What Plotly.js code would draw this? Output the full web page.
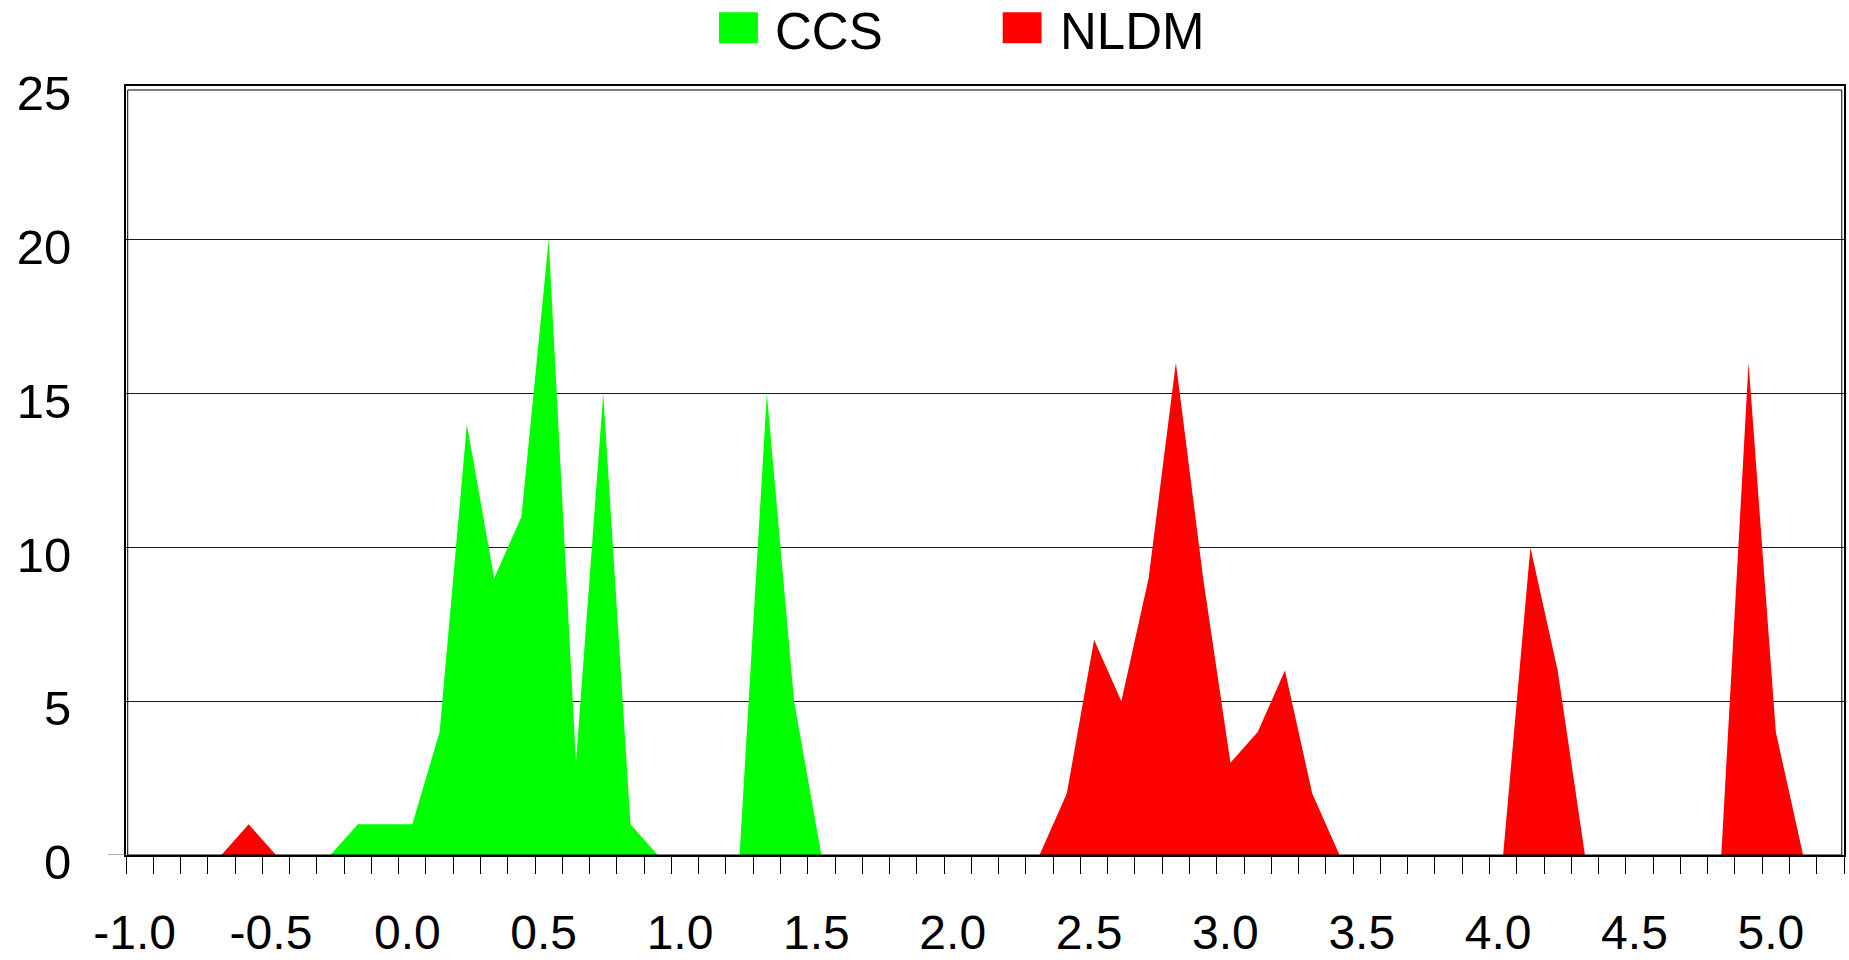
<!DOCTYPE html>
<html>
<head>
<meta charset="utf-8">
<script src="https://cdn.plot.ly/plotly-3.0.1.min.js"></script>
<style>
  html, body { margin: 0; padding: 0; background: #ffffff; }
  #chart { width: 1849px; height: 960px; }
</style>
</head>
<body>
<div id="chart"></div>
<script>
// Bin centres (step 0.1) along the horizontal axis
const bins = [
  -1.0, -0.9, -0.8, -0.7, -0.6, -0.5, -0.4, -0.3, -0.2, -0.1,
   0.0,  0.1,  0.2,  0.3,  0.4,  0.5,  0.6,  0.7,  0.8,  0.9,
   1.0,  1.1,  1.2,  1.3,  1.4,  1.5,  1.6,  1.7,  1.8,  1.9,
   2.0,  2.1,  2.2,  2.3,  2.4,  2.5,  2.6,  2.7,  2.8,  2.9,
   3.0,  3.1,  3.2,  3.3,  3.4,  3.5,  3.6,  3.7,  3.8,  3.9,
   4.0,  4.1,  4.2,  4.3,  4.4,  4.5,  4.6,  4.7,  4.8,  4.9,
   5.0,  5.1,  5.2
];

// Counts per bin for each timing model
const ccsCounts = [
  0, 0, 0, 0, 0, 0, 0, 0, 1, 1,
  1, 4, 14, 9, 11, 20, 3, 15, 1, 0,
  0, 0, 0, 15, 5, 0, 0, 0, 0, 0,
  0, 0, 0, 0, 0, 0, 0, 0, 0, 0,
  0, 0, 0, 0, 0, 0, 0, 0, 0, 0,
  0, 0, 0, 0, 0, 0, 0, 0, 0, 0,
  0, 0, 0
];
const nldmCounts = [
  0, 0, 0, 0, 1, 0, 0, 0, 0, 0,
  0, 0, 0, 0, 0, 0, 0, 0, 0, 0,
  0, 0, 0, 0, 0, 0, 0, 0, 0, 0,
  0, 0, 0, 0, 2, 7, 5, 9, 16, 9,
  3, 4, 6, 2, 0, 0, 0, 0, 0, 0,
  0, 10, 6, 0, 0, 0, 0, 0, 0, 16,
  4, 0, 0
];

// Axis labels
const xTickVals = [-1.0, -0.5, 0.0, 0.5, 1.0, 1.5, 2.0, 2.5, 3.0, 3.5, 4.0, 4.5, 5.0];
const xTickText = ['-1.0', '-0.5', '0.0', '0.5', '1.0', '1.5', '2.0', '2.5', '3.0', '3.5', '4.0', '4.5', '5.0'];
const yTickVals = [0, 5, 10, 15, 20, 25];

const seriesNames = ['CCS', 'NLDM'];
const seriesColors = ['#00ff00', '#ff0000'];

const FONT = 'Liberation Sans, Arial, Helvetica, sans-serif';

const traces = [ccsCounts, nldmCounts].map((vals, i) => ({
  type: 'scatter',
  mode: 'lines',
  x: bins,
  y: vals,
  name: seriesNames[i],
  fill: 'tozeroy',
  fillcolor: seriesColors[i],
  line: { width: 0, color: seriesColors[i] },
  showlegend: false,
  hoverinfo: 'x+y+name'
}));

// Legend drawn as swatches + labels above the plot
const legendShapes = [];
const legendNotes = [];
const swatchX = [0.3452, 0.5103];
const labelX = [0.3768, 0.5425];
seriesNames.forEach((name, i) => {
  legendShapes.push({
    type: 'rect', xref: 'paper', yref: 'paper',
    x0: swatchX[i], x1: swatchX[i] + 0.0226,
    y0: 1.0555, y1: 1.0958,
    fillcolor: seriesColors[i], line: { width: 0 }
  });
  legendNotes.push({
    xref: 'paper', yref: 'paper',
    x: labelX[i], y: 1.0705,
    xanchor: 'left', yanchor: 'middle',
    text: name, showarrow: false,
    font: { family: FONT, size: 51, color: '#000000' }
  });
});

const frameShapes = [
  // inner line of the double frame
  {
    type: 'rect', xref: 'paper', yref: 'paper',
    x0: 0.001, x1: 0.9987, y0: 0, y1: 0.9948,
    line: { color: '#000000', width: 1 }, fillcolor: 'rgba(0,0,0,0)'
  },
  // baseline stub left of the plot
  {
    type: 'line', xref: 'paper', yref: 'y',
    x0: -0.0105, x1: 0, y0: 0, y1: 0,
    line: { color: '#555555', width: 1 }
  }
];

const layout = {
  width: 1849,
  height: 960,
  margin: { l: 126, r: 5, t: 86, b: 105, pad: 0 },
  paper_bgcolor: '#ffffff',
  plot_bgcolor: '#ffffff',
  showlegend: false,
  font: { family: FONT, size: 48, color: '#000000' },
  xaxis: {
    type: 'linear',
    range: [-1.05, 5.25],
    tickmode: 'array',
    tickvals: xTickVals,
    ticktext: xTickText,
    ticks: '',
    ticklabelstandoff: 34,
    ticklabelshift: -5,
    tickfont: { family: FONT, size: 48, color: '#000000' },
    showgrid: false,
    zeroline: false,
    showline: true,
    linecolor: '#000000',
    linewidth: 2,
    mirror: true,
    minor: {
      tickmode: 'linear',
      tick0: -1.05,
      dtick: 0.1,
      ticks: 'outside',
      ticklen: 17,
      tickwidth: 1,
      tickcolor: '#000000',
      showgrid: false
    }
  },
  yaxis: {
    range: [0, 25],
    tickmode: 'array',
    tickvals: yTickVals,
    ticks: '',
    ticklabelstandoff: 43,
    ticklabelshift: 7,
    tickfont: { family: FONT, size: 49, color: '#000000' },
    showgrid: true,
    gridcolor: '#1a1a1a',
    gridwidth: 1,
    zeroline: false,
    showline: true,
    linecolor: '#000000',
    linewidth: 2,
    mirror: true
  },
  shapes: frameShapes.concat(legendShapes),
  annotations: legendNotes
};

Plotly.newPlot('chart', traces, layout, { displayModeBar: false, staticPlot: true });
</script>
</body>
</html>
